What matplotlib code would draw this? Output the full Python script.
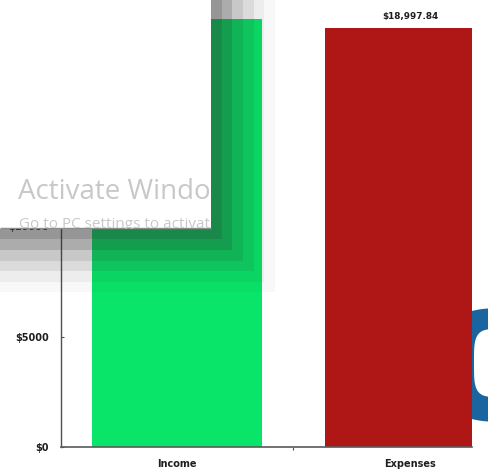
import numpy as np
import matplotlib
matplotlib.use("Agg")
import matplotlib.pyplot as plt
from matplotlib.patches import Rectangle, Polygon

# --- chart data ---
categories = ["Income", "Expenses"]
amounts = [19380.00, 18997.84]
bar_colors = ["#09E568", "#AF1717"]
y_ticks = [0, 5000, 10000, 15000, 20000]
y_tick_labels = ["$0", "$5000", "$10000", "$15000", "$20000"]

W, H = 488, 476
fig = plt.figure(figsize=(W / 100, H / 100), dpi=100, facecolor="white")

# --- background layer (logo ring peeking out at the right) ---
bg = fig.add_axes([0, 0, 1, 1], zorder=0)
bg.set_xlim(0, W)
bg.set_ylim(H, 0)
bg.axis("off")


def superellipse(cx, cy, a, b, n, num=400):
    t = np.linspace(0, 2 * np.pi, num)
    c, s = np.cos(t), np.sin(t)
    x = cx + a * np.sign(c) * np.abs(c) ** (2 / n)
    y = cy + b * np.sign(s) * np.abs(s) ** (2 / n)
    return np.column_stack([x, y])


bg.add_patch(Polygon(superellipse(508, 365, 68, 57, 3), closed=True,
                     facecolor="#1A64A0", edgecolor="none"))
bg.add_patch(Polygon(superellipse(500, 363, 26, 34, 4), closed=True,
                     facecolor="white", edgecolor="none"))

# --- main bar chart ---
left, right, bottom, top = 61, 472, 447, 5.6
ax = fig.add_axes([left / W, 1 - bottom / H, (right - left) / W, (bottom - top) / H],
                  zorder=1)
ax.set_facecolor("white")

x = np.arange(len(categories))
ax.bar(x, amounts, width=0.729, color=bar_colors, edgecolor="none")

for xi, v in zip(x, amounts):
    ax.annotate(f"${v:,.2f}", (xi, v), xytext=(0, 6.1), textcoords="offset points",
                ha="center", va="baseline", fontsize=6.4, fontweight="bold",
                color="#1E1E1E", family="DejaVu Sans")

ax.set_xlim(-0.496, 1.266)
ax.set_ylim(0, 20000)

ax.set_yticks(y_ticks)
ax.set_yticklabels(y_tick_labels)
ax.tick_params(axis="y", direction="in", length=2.2, width=0.8, color="#505050",
               pad=8.6, labelsize=7, labelcolor="#1E1E1E")
for lbl in ax.get_yticklabels():
    lbl.set_fontweight("bold")

ax.set_xticks([0.5])
ax.set_xticklabels([""])
ax.tick_params(axis="x", which="major", direction="out", length=2.2, width=0.8,
               color="#505050")
ax.set_xticks(x, minor=True)
ax.set_xticklabels(categories, minor=True)
ax.tick_params(axis="x", which="minor", length=0, pad=8.9, labelsize=7,
               labelcolor="#1E1E1E")
for lbl in ax.get_xticklabels(minor=True):
    lbl.set_fontweight("bold")

for side in ("top", "right"):
    ax.spines[side].set_visible(False)
ax.spines["left"].set_color("#505050")
ax.spines["left"].set_linewidth(1.0)
ax.spines["bottom"].set_color("#5A5A5A")
ax.spines["bottom"].set_linewidth(1.2)

# --- foreground window with drop shadow ---
ov = fig.add_axes([0, 0, 1, 1], zorder=10)
ov.set_xlim(0, W)
ov.set_ylim(H, 0)
ov.set_axis_off()
ov.patch.set_visible(False)

box_r, box_b = 211, 228.5
band_w = [10.7, 10.7, 10.7, 10.7, 10.7, 10.5]
band_a = [0.488, 0.386, 0.256, 0.163, 0.084, 0.033]
xs, ys = box_r, box_b
for w, a in zip(band_w, band_a):
    ov.add_patch(Rectangle((xs, 0), w, ys + w, facecolor="#282828", alpha=a,
                           edgecolor="none", zorder=4))
    ov.add_patch(Rectangle((0, ys), xs, w, facecolor="#282828", alpha=a,
                           edgecolor="none", zorder=4))
    xs += w
    ys += w

win = Rectangle((0, 0), box_r, box_b, facecolor="#FFFFFF", edgecolor="none",
                alpha=1.0, zorder=5)
ov.add_patch(win)
ov.plot([0, box_r], [box_b - 1.0, box_b - 1.0], color="#8C8C8C", lw=1.0,
        solid_capstyle="butt", zorder=6)

t1 = ov.text(18, 199, "Activate Windows", fontsize=20, color="#C8C8C8",
             family="Open Sans", va="baseline", ha="left", zorder=7, clip_on=True)
t2 = ov.text(19, 228.5, "Go to PC settings to activate Windows.", fontsize=11,
             color="#C8C8C8", family="Open Sans", va="baseline", ha="left",
             zorder=7, clip_on=True)
for t in (t1, t2):
    t.set_clip_path(win)

fig.savefig("out.png", dpi=100, facecolor="white")
